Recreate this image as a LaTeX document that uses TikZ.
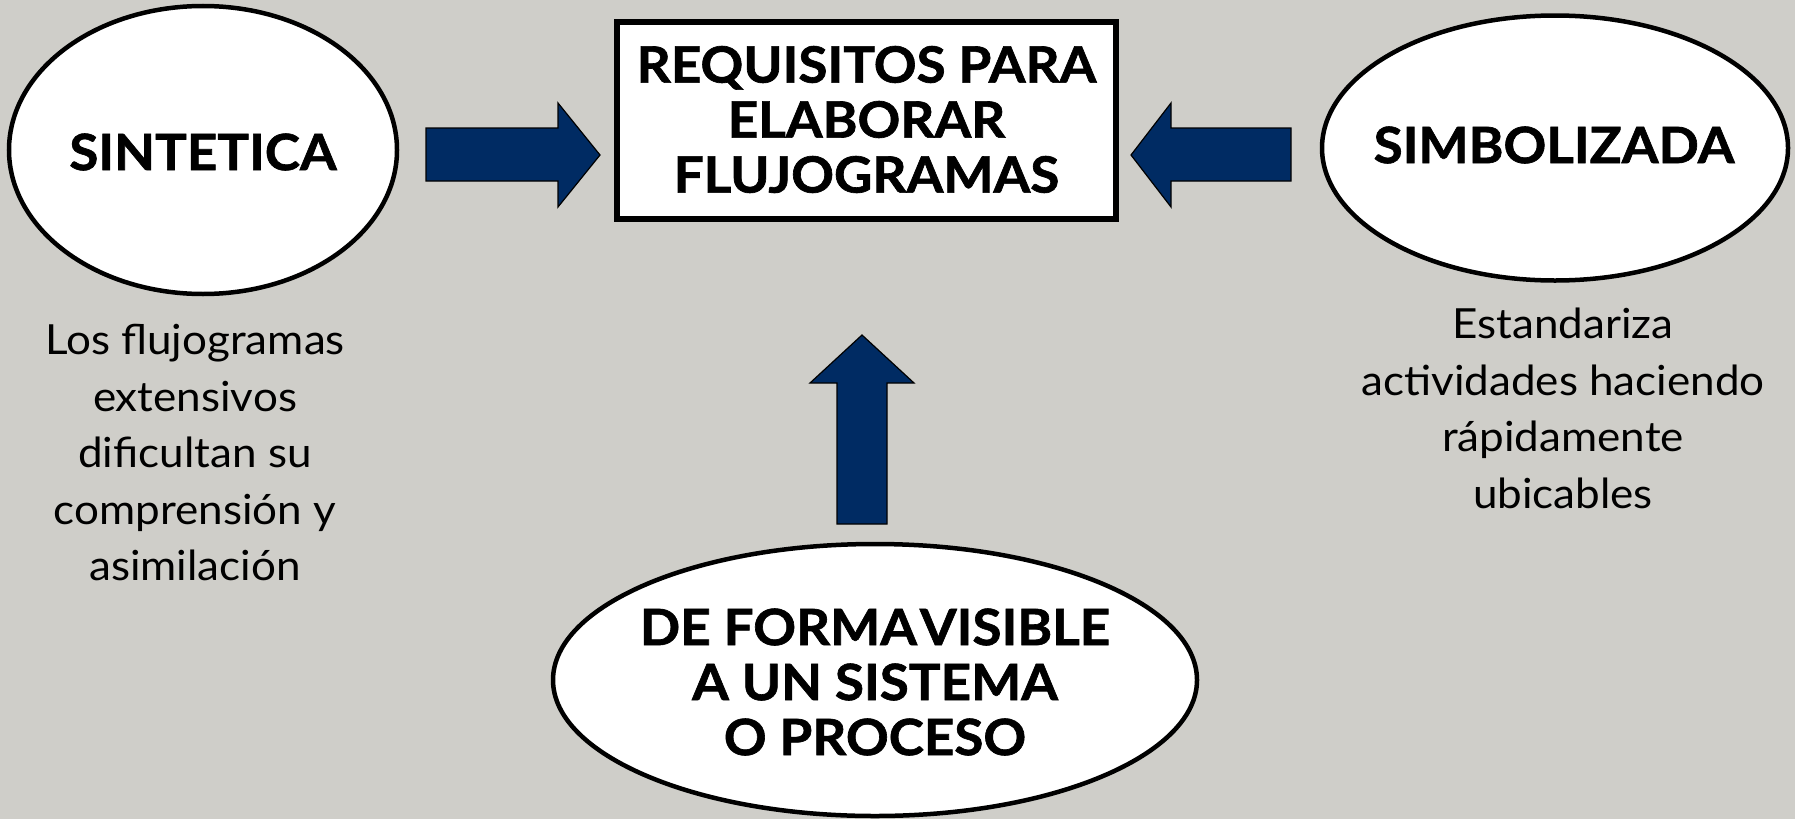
\documentclass[tikz,border=0pt]{standalone}
\usepackage{fontspec}
\setmainfont{Lato}[FakeStretch=1.06, BoldFeatures={FakeBold=1.3}]
\usetikzlibrary{shapes.geometric}
\definecolor{bg}{RGB}{207,206,201}
\definecolor{navy}{RGB}{0,43,99}
\begin{document}
\begin{tikzpicture}[x=1pt,y=-1pt,
 oval/.style={ellipse, draw=black, line width=4.5pt, fill=white, inner sep=0pt},
 titletext/.style={font=\fontsize{50}{55}\selectfont\bfseries, align=center},
 bodytext/.style={font=\fontsize{41.5}{56.5}\selectfont, align=center},
 barrow/.style={fill=navy, draw=black, line width=1.2pt, line join=miter}]
\fill[bg] (0,0) rectangle (1795,819);
\useasboundingbox (0,0) rectangle (1795,819);
% nodes
\node[oval, minimum width=388, minimum height=288] (sint) at (203,150) {};
\node[titletext] (sintt) at (203,152) {SINTETICA};
\node[oval, minimum width=466, minimum height=265] (simb) at (1555,148) {};
\node[titletext] (simbt) at (1554,145) {SIMBOLIZADA};
\node[draw=black, line width=6pt, fill=white, minimum width=499, minimum height=197, inner sep=0pt] (req) at (866.5,120.5) {};
\node[titletext] (reqt) at (866.5,119.5) {REQUISITOS PARA\\ELABORAR\\FLUJOGRAMAS};
\node[oval, minimum width=644, minimum height=272] (vis) at (875,680) {};
\node[titletext] (vist) at (875,682) {DE FORMA\hspace{-0.2em} VISIBLE\\A UN SISTEMA\\O PROCESO};
\node[bodytext] (lt) at (195,453) {Los flujogramas\\extensivos\\dificultan su\\comprensión y\\asimilación};
\node[bodytext] (rt) at (1563,408.5) {Estandariza\\actividades haciendo\\rápidamente\\ubicables};
% block arrows
\filldraw[barrow] (426,128) -- (558,128) -- (558,103) -- (600,155) -- (558,207) -- (558,181) -- (426,181) -- cycle;
\filldraw[barrow] (1291,128) -- (1171,128) -- (1171,103) -- (1131,155) -- (1171,207) -- (1171,181) -- (1291,181) -- cycle;
\filldraw[barrow] (837,524) -- (837,383) -- (810,383) -- (862,335) -- (914,383) -- (887,383) -- (887,524) -- cycle;
\end{tikzpicture}
\end{document}
